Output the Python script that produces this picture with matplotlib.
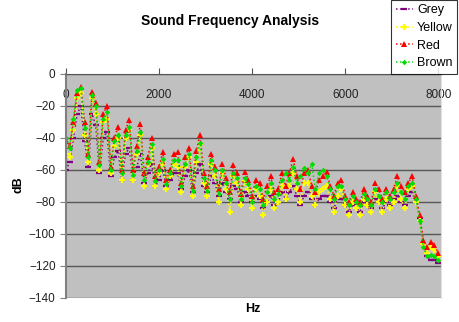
import matplotlib
matplotlib.use("Agg")
import matplotlib.pyplot as plt
import numpy as np

plt.rcParams['font.family'] = ['Liberation Sans', 'DejaVu Sans']

freq_step = 80
grey = [-60, -55, -40, -25, -20, -42, -58, -25, -32, -62, -40, -36, -64, -52, -48, -66, -50, -46, -66, -58,
        -50, -68, -62, -56, -70, -66, -60, -70, -66, -62, -62, -72, -64, -60, -74, -62, -56, -70, -74, -64,
        -68, -76, -68, -74, -78, -70, -72, -80, -74, -76, -80, -76, -78, -84, -80, -76, -82, -80, -74, -78,
        -74, -70, -76, -82, -76, -74, -78, -82, -78, -76, -76, -80, -84, -78, -78, -82, -86, -82, -84, -86,
        -80, -82, -84, -78, -80, -84, -80, -82, -78, -76, -80, -82, -76, -74, -80, -90, -106, -114, -116, -116,
        -118]
yellow = [-50, -52, -35, -15, -12, -38, -55, -15, -25, -60, -30, -28, -62, -45, -40, -66, -40, -35, -66, -50,
          -38, -70, -56, -46, -70, -62, -56, -72, -64, -56, -58, -74, -58, -52, -76, -55, -44, -68, -76, -56,
          -64, -80, -62, -72, -86, -64, -68, -82, -67, -72, -84, -72, -76, -88, -80, -72, -84, -80, -70, -78,
          -70, -62, -72, -80, -68, -68, -76, -82, -74, -72, -70, -78, -86, -76, -72, -82, -88, -80, -84, -88,
          -78, -82, -86, -74, -80, -86, -78, -84, -80, -70, -78, -84, -72, -70, -80, -92, -106, -112, -108, -110,
          -114]
red = [-42, -45, -30, -12, -8, -30, -50, -11, -18, -55, -25, -20, -58, -40, -33, -60, -35, -29, -60, -45,
       -31, -62, -52, -40, -64, -58, -49, -66, -60, -50, -49, -68, -52, -46, -70, -48, -38, -62, -70, -50,
       -58, -72, -56, -65, -74, -57, -62, -75, -61, -66, -76, -66, -68, -78, -70, -64, -74, -72, -62, -70,
       -62, -53, -64, -72, -62, -60, -70, -74, -66, -64, -61, -70, -76, -68, -66, -76, -80, -74, -78, -80,
       -72, -76, -80, -68, -72, -78, -72, -76, -72, -64, -70, -74, -68, -64, -76, -88, -104, -108, -105, -107,
       -112]
brown = [-40, -46, -28, -10, -9, -34, -52, -13, -20, -57, -28, -24, -60, -42, -38, -62, -38, -33, -63, -48,
         -36, -66, -55, -44, -67, -60, -53, -69, -62, -54, -54, -70, -56, -50, -73, -52, -43, -65, -73, -54,
         -60, -75, -60, -68, -78, -62, -65, -78, -65, -69, -80, -70, -72, -82, -74, -68, -78, -75, -66, -62,
         -66, -58, -68, -64, -59, -62, -56, -72, -62, -60, -64, -72, -78, -70, -70, -78, -82, -76, -80, -82,
         -75, -78, -82, -72, -76, -80, -74, -78, -74, -68, -74, -78, -70, -68, -78, -92, -108, -114, -113, -114,
         -116]
series_names = ["Grey", "Yellow", "Red", "Brown"]
y_ticks = [0, -20, -40, -60, -80, -100, -120, -140]
x_ticks = [0, 2000, 4000, 6000, 8000]

freqs = np.arange(len(red)) * freq_step

W, H = 459, 322
fig = plt.figure(figsize=(W / 100, H / 100), dpi=100)
ax = fig.add_axes([66 / W, (H - 298) / H, (441 - 66) / W, (298 - 74) / H])
ax.set_facecolor('#C0C0C0')

styles = [
    dict(color='#800080', marker='_', ms=4, mew=1.6),
    dict(color='#FFFF00', marker='+', ms=4, mew=1.6),
    dict(color='#FF0000', marker='^', ms=4, mew=0),
    dict(color='#00DD00', marker='D', ms=2.8, mew=0),
]
for name, vals, st in zip(series_names, [grey, yellow, red, brown], styles):
    ax.plot(freqs, vals, linestyle=':', linewidth=1.1, label=name, **st)

ax.set_xlim(0, 8060)
ax.set_ylim(-140, 0)
ax.set_yticks(y_ticks)
ax.set_xticks(x_ticks)
ax.yaxis.grid(True, color='#555555', linewidth=1.0)
ax.set_axisbelow(True)

ax.spines['bottom'].set_position(('data', 0))
ax.spines['bottom'].set_color('#555555')
ax.spines['top'].set_visible(False)
ax.spines['right'].set_color('#E0E0E0')
ax.spines['left'].set_color('#808080')
ax.spines['left'].set_linewidth(1.5)
ax.tick_params(axis='x', direction='in', length=4, color='#555555', labelsize=8.5, pad=11, labelcolor='#222222')
ax.tick_params(axis='y', direction='out', length=4, color='#808080', labelsize=8.5, labelcolor='#222222')

fig.text(230 / W, 1 - 21 / H, "Sound Frequency Analysis", ha='center', va='center', fontsize=10, fontweight='bold')
fig.text(18 / W, 1 - 185 / H, "dB", ha='center', va='center', rotation=90, fontsize=9, fontweight='bold')
fig.text(253 / W, 1 - 309 / H, "Hz", ha='center', va='center', fontsize=9, fontweight='bold')

leg = fig.legend(loc='upper right', bbox_to_anchor=(457 / W, 1.0), fontsize=9, frameon=True,
                 fancybox=False, edgecolor='black', handlelength=1.4, handletextpad=0.3,
                 borderpad=0.35, labelspacing=0.45, borderaxespad=0)
leg.get_frame().set_linewidth(0.8)

fig.savefig("out.png", dpi=100)
